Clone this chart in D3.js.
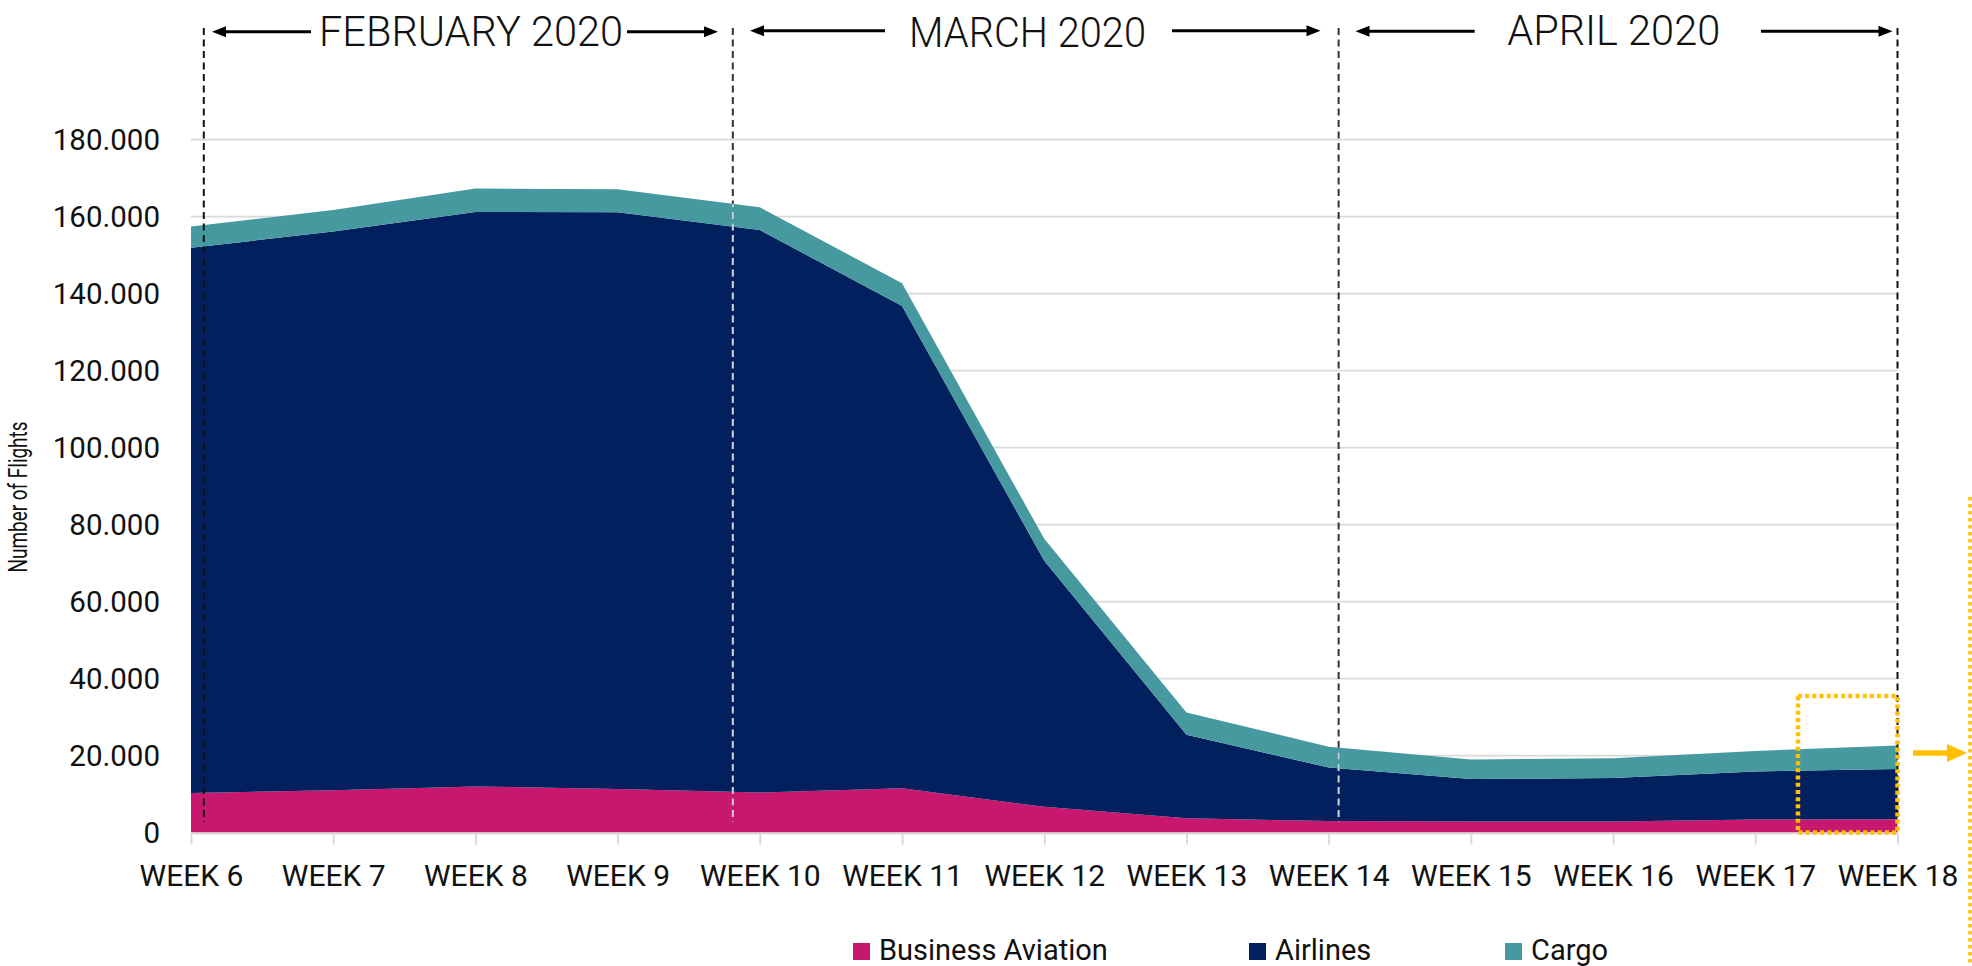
<!DOCTYPE html>
<html><head><meta charset="utf-8">
<script src="https://cdn.jsdelivr.net/npm/d3@7"></script>
<style>
body{margin:0;background:#fff;}
svg{display:block;}
text{font-family:Roboto,"Open Sans",sans-serif;fill:#111;}
</style>
</head><body>
<svg id="chart" width="1972" height="966"></svg>
<script>
// ---------- DATA ----------
const weekNumbers = [6,7,8,9,10,11,12,13,14,15,16,17,18];
const weekLabels = ["WEEK 6","WEEK 7","WEEK 8","WEEK 9","WEEK 10","WEEK 11","WEEK 12","WEEK 13","WEEK 14","WEEK 15","WEEK 16","WEEK 17","WEEK 18"];
const businessAviation = [10300,11000,12000,11300,10400,11500,6700,3700,3000,2900,2900,3400,3500];
const airlines         = [141600,145100,149200,149800,146100,125300,63900,21700,13900,11000,11300,12500,13000];
const cargo            = [5500,5600,6100,6000,5900,5900,5700,5800,5400,5100,5100,5300,6100];
const seriesNames  = ["Business Aviation","Airlines","Cargo"];
const seriesColors = ["#C8176F","#01205D","#4799A0"];
const yTicks = [0,20000,40000,60000,80000,100000,120000,140000,160000,180000];
const yTitle = "Number of Flights";
const monthLabels = ["FEBRUARY 2020","MARCH 2020","APRIL 2020"];
const monthBounds = [6.09, 9.81, 14.07, 18];   // in week units
const highlight = {from:17.3, to:18, top:35500};

// ---------- LAYOUT ----------
const svg = d3.select("#chart");
const x = d3.scaleLinear().domain([6,18]).range([191,1897.5]);
const y = d3.scaleLinear().domain([0,180000]).range([832.6,139.6]);
const fmt = d3.formatLocale({decimal:",",thousands:".",grouping:[3],currency:["","€"]}).format(",");

const rows = weekNumbers.map((w,i)=>({week:w, "Business Aviation":businessAviation[i], "Airlines":airlines[i], "Cargo":cargo[i]}));
const stack = d3.stack().keys(seriesNames)(rows);

// gridlines
svg.append("g").selectAll("line").data(yTicks.filter(t=>t>0)).join("line")
  .attr("x1",x(6)).attr("x2",x(18)).attr("y1",d=>y(d)).attr("y2",d=>y(d))
  .attr("stroke","#d9d9d9").attr("stroke-width",1.6);

// y axis labels
const yAxis = d3.axisLeft(y).tickValues(yTicks).tickFormat(fmt).tickSize(0).tickPadding(0);
const yg = svg.append("g").attr("transform",`translate(160,0)`).call(yAxis);
yg.select(".domain").remove();
yg.selectAll("text").attr("font-size",29.5).attr("font-family","Roboto,sans-serif").attr("fill","#111");

// areas
const area = d3.area().x(d=>x(d.data.week)).y0(d=>y(d[0])).y1(d=>y(d[1]));
svg.append("g").selectAll("path").data(stack).join("path")
  .attr("d",area).attr("fill",(d,i)=>seriesColors[i]);

// clip for the light dash segments over the areas
const totalArea = d3.area().x(d=>x(d.data.week)).y0(y(0)).y1(d=>y(d[1]));
svg.append("clipPath").attr("id","areaClip").append("path").attr("d",totalArea(stack[2]));

// x axis
const xAxis = d3.axisBottom(x).tickValues(weekNumbers).tickFormat((d,i)=>weekLabels[i]).tickSize(11).tickPadding(20);
const xg = svg.append("g").attr("transform",`translate(0,${y(0)+1})`).call(xAxis);
xg.select(".domain").attr("stroke","#d9d9d9").attr("stroke-width",2).attr("d",`M${x(6)},0H${x(18)}`);
xg.selectAll(".tick line").attr("stroke","#d9d9d9").attr("stroke-width",2);
xg.selectAll("text").attr("font-size",30).attr("font-family","Roboto,sans-serif").attr("fill","#111").attr("dy","0.71em");

// month boundary dashed lines
const dashTop = 28, dashBottom = 822;
monthBounds.forEach((b,i)=>{
  svg.append("line").attr("x1",x(b)).attr("x2",x(b)).attr("y1",dashTop).attr("y2",dashBottom)
    .attr("stroke",i===0||i===3?"#111":"#333").attr("stroke-width",2).attr("stroke-dasharray","7 4.5");
  if(i===1||i===2){
    svg.append("line").attr("x1",x(b)).attr("x2",x(b)).attr("y1",dashTop).attr("y2",dashBottom)
      .attr("clip-path","url(#areaClip)")
      .attr("stroke","#cfd3da").attr("stroke-width",2).attr("stroke-dasharray","7 4.5");
  }
});

// month titles + arrows
const monthAnn = [
  {cx:471,   base:46, len:304, arrows:[[311,212,31.7],[627,718,31.7]]},
  {cx:1027.5,base:47, len:237, arrows:[[885,750,30.7],[1172,1320.5,30.7]]},
  {cx:1613.7,base:44.5, len:213, arrows:[[1474.7,1355.5,31.2],[1761,1892.5,31.2]]}
];
monthLabels.forEach((m,i)=>{
  const a = monthAnn[i];
  svg.append("text").attr("x",a.cx).attr("y",a.base).attr("text-anchor","middle")
    .attr("font-size",42).attr("font-weight",300).attr("textLength",a.len).attr("lengthAdjust","spacingAndGlyphs").text(m);
  a.arrows.forEach(([tail,tip,yy])=>{
    const s = Math.sign(tip-tail);
    svg.append("line").attr("x1",tail).attr("x2",tip - s*10).attr("y1",yy).attr("y2",yy)
      .attr("stroke","#000").attr("stroke-width",3);
    svg.append("path").attr("d",`M${tip},${yy} L${tip-s*14},${yy-5.5} L${tip-s*14},${yy+5.5} Z`).attr("fill","#000");
  });
});

// y title
svg.append("text").attr("transform","translate(27,497) rotate(-90)").attr("text-anchor","middle")
  .attr("font-size",25).attr("font-weight",400).attr("textLength",151).attr("lengthAdjust","spacingAndGlyphs").text(yTitle);

// legend
const legendX = [853,1249,1505];
seriesNames.forEach((n,i)=>{
  svg.append("rect").attr("x",legendX[i]).attr("y",943).attr("width",17).attr("height",17).attr("fill",seriesColors[i]);
  svg.append("text").attr("x",legendX[i]+26).attr("y",959.5).attr("font-size",29).text(n);
});

// highlight box
const amber = "#FFC000";
svg.append("rect").attr("x",x(highlight.from)).attr("y",y(highlight.top))
  .attr("width",x(highlight.to)-x(highlight.from)).attr("height",y(0)-y(highlight.top))
  .attr("fill","none").attr("stroke",amber).attr("stroke-width",4.5).attr("stroke-dasharray","4 3.2");
// pointer arrow
const ay = 753;
svg.append("line").attr("x1",1913).attr("x2",1950).attr("y1",ay).attr("y2",ay).attr("stroke",amber).attr("stroke-width",5.5);
svg.append("path").attr("d",`M1967,${ay} L1947,${ay-9} L1947,${ay+9} Z`).attr("fill",amber);
// edge of next panel
svg.append("line").attr("x1",1970).attr("x2",1970).attr("y1",497).attr("y2",966)
  .attr("stroke",amber).attr("stroke-width",3.5).attr("stroke-dasharray","3.5 3.5");
</script>
</body></html>
